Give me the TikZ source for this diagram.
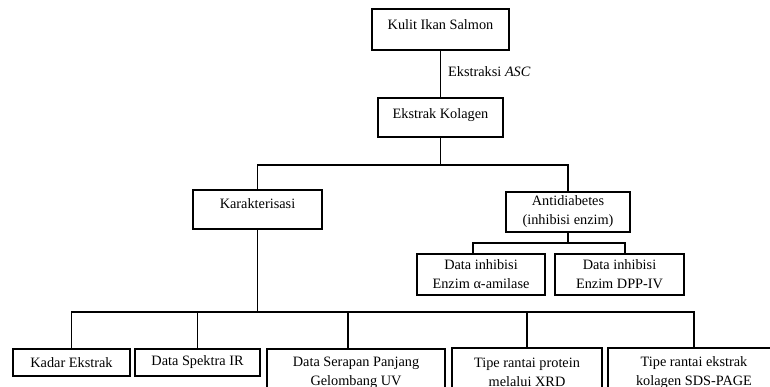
\documentclass[tikz,border=0pt]{standalone}
\usepackage{fontspec}
\setmainfont{Liberation Serif}
\newcommand{\txtup}[2]{\raisebox{#1}[\height][\depth]{#2}}
\begin{document}
\begin{tikzpicture}[x=1pt,y=-1pt,
  box/.style={draw, line width=2.1pt, inner sep=0pt, align=center, font=\fontsize{14.3}{19}\selectfont},
  conn/.style={line width=1.3pt},
  lbl/.style={font=\fontsize{14.3}{19}\selectfont, inner sep=0pt}]
\useasboundingbox (0,0) rectangle (770,387);
\clip (0,0) rectangle (770,387);
% top chain
\node[box, minimum width=137pt, minimum height=41pt] (kulit) at (440.5,29.5) {\txtup{4.5pt}{Kulit Ikan Salmon}};
\node[box, minimum width=125pt, minimum height=39pt] (kolagen) at (440.5,117.5) {\txtup{2.5pt}{Ekstrak Kolagen}};
\node[lbl, anchor=west] (ekstr) at (448,72) {Ekstraksi \textit{ASC}};
% second level
\node[box, minimum width=129pt, minimum height=39pt] (karakter) at (257.5,209.5) {\txtup{6pt}{Karakterisasi}};
\node[box, minimum width=124pt, minimum height=40pt] (anti) at (568,212) {Antidiabetes\\(inhibisi enzim)};
% antidiabetes children
\node[box, minimum width=128pt, minimum height=41pt] (amilase) at (481,274.5) {Data inhibisi\\Enzim α-amilase};
\node[box, minimum width=129pt, minimum height=41pt] (dpp) at (619.5,274.5) {Data inhibisi\\Enzim DPP-IV};
% characterisation children
\node[box, minimum width=117pt, minimum height=27pt] (kadar) at (71.5,362.5) {Kadar Ekstrak};
\node[box, minimum width=125pt, minimum height=27pt] (spektra) at (197.5,362.5) {Data Spektra IR};
\node[box, minimum width=178pt, minimum height=47pt] (serapan) at (356,372.5) {Data Serapan Panjang\\Gelombang UV};
\node[box, minimum width=150pt, minimum height=49pt] (protein) at (527,372.5) {Tipe rantai protein\\melalui XRD};
\node[box, minimum width=172pt, minimum height=49pt] (ekstrak) at (694,372.5) {Tipe rantai ekstrak\\kolagen SDS-PAGE};
% connectors
\coordinate (hsplit) at (441,165);
\coordinate (hsplit2) at (570,243);
\coordinate (hsplit3) at (257,312);
\draw[conn] (kulit) -- (kolagen);
\draw[conn] (kolagen.south) -- (kolagen.south |- hsplit);
\draw[conn] (karakter.north) |- (anti.north |- hsplit) -- (anti.north);
\draw[conn] (anti.south) -- (anti.south |- hsplit2);
\draw[conn] ([xshift=-8pt]amilase.north) |- ([xshift=5.5pt]dpp.north |- hsplit2) -- ([xshift=5.5pt]dpp.north);
\draw[conn] (karakter.south) -- (karakter.south |- hsplit3);
\draw[conn] (kadar.north) |- (ekstrak.north |- hsplit3) -- (ekstrak.north);
\draw[conn] (spektra.north) -- (spektra.north |- hsplit3);
\draw[conn] ([xshift=-8pt]serapan.north) -- ([xshift=-8pt]serapan.north |- hsplit3);
\draw[conn] (protein.north) -- (protein.north |- hsplit3);
\end{tikzpicture}
\end{document}
